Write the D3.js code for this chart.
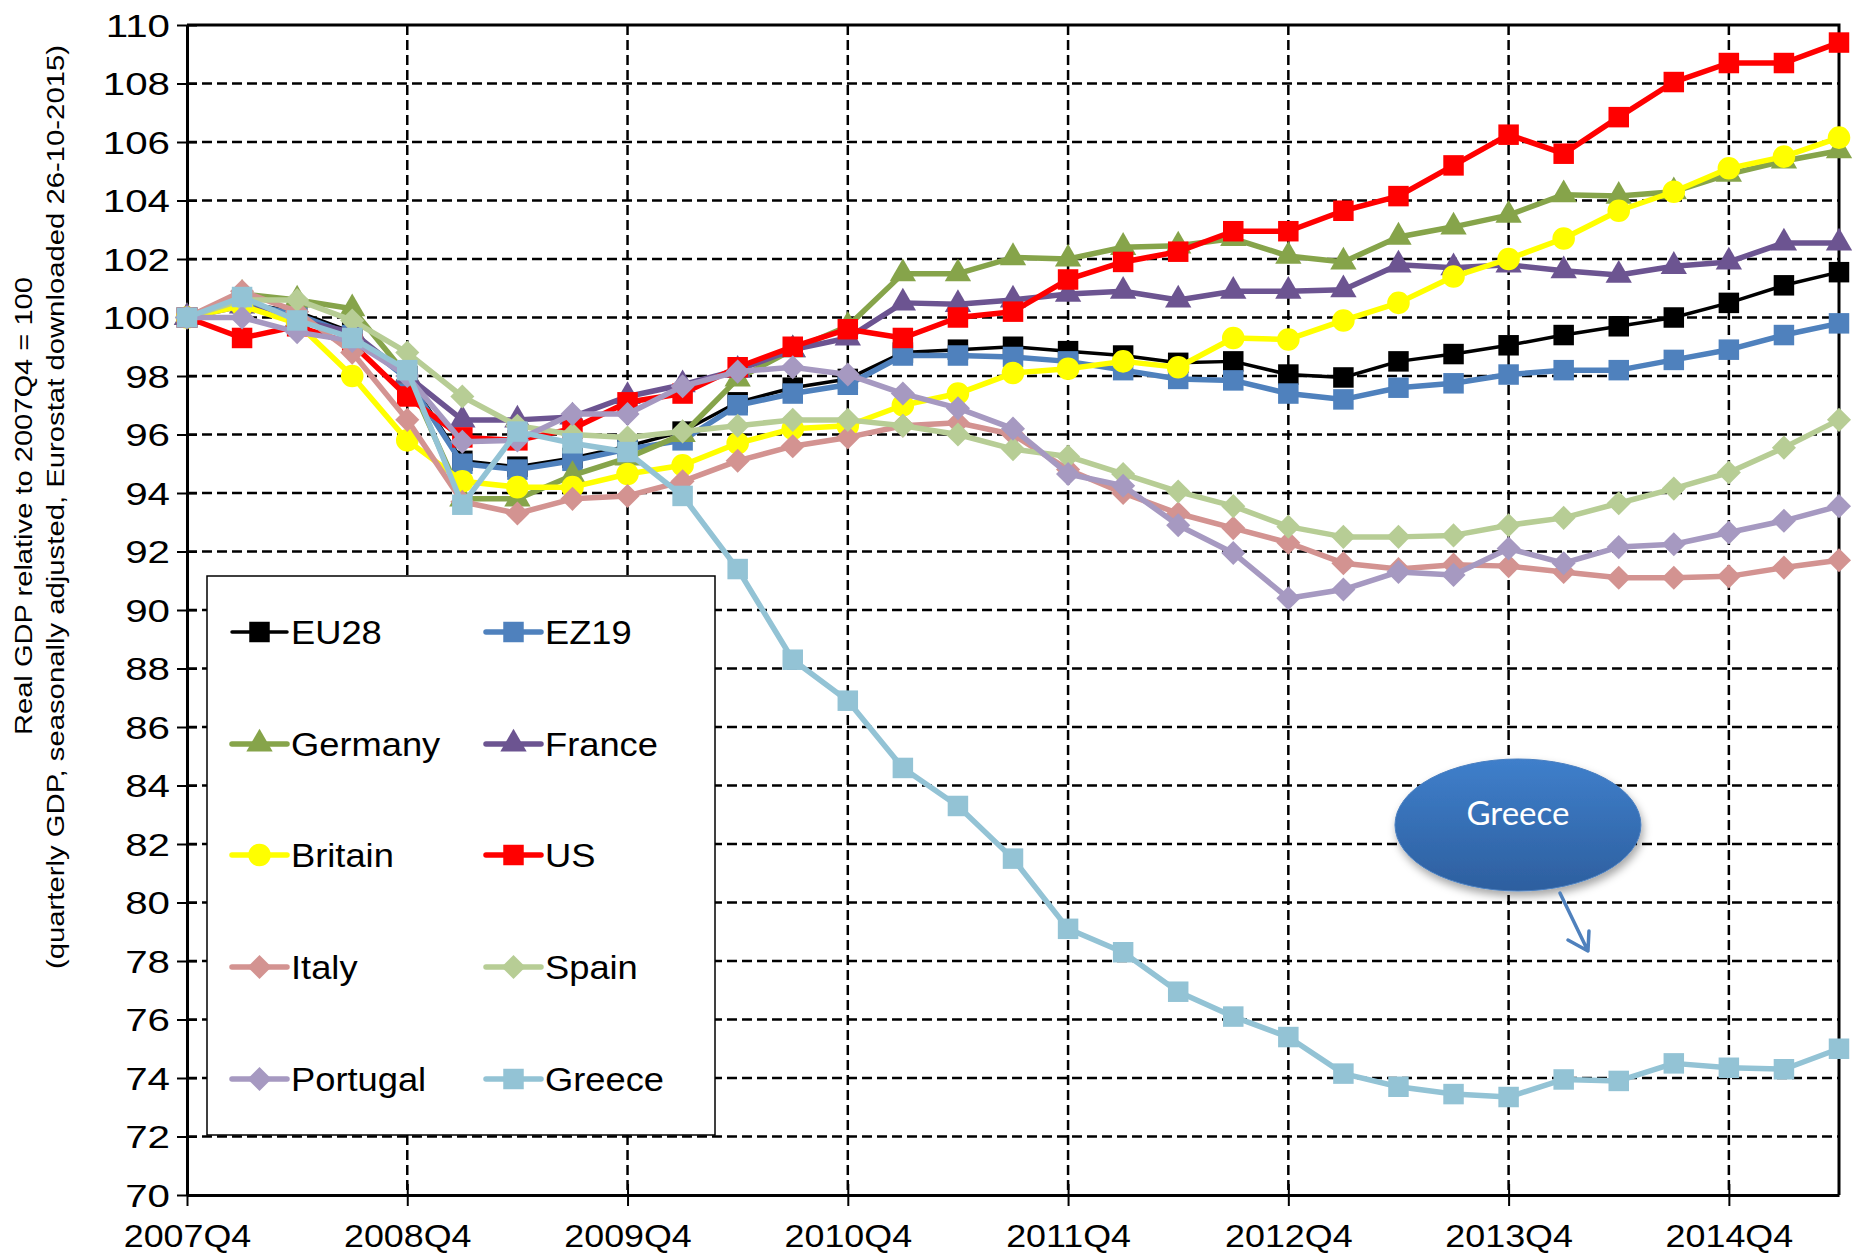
<!DOCTYPE html>
<html>
<head>
<meta charset="utf-8">
<script src="https://cdn.jsdelivr.net/npm/d3@7/dist/d3.min.js"></script>
<style>
    body { margin: 0; background: #fff; }
    text { font-family: "Liberation Sans", Arial, sans-serif; fill: #000; }
</style>
</head>
<body>
<div id="chart"></div>
<script>
// quarters on the x axis (2007Q4 .. 2015Q2)
var quarters = ["2007Q4", "2008Q1", "2008Q2", "2008Q3", "2008Q4", "2009Q1", "2009Q2", "2009Q3",
    "2009Q4", "2010Q1", "2010Q2", "2010Q3", "2010Q4", "2011Q1", "2011Q2", "2011Q3",
    "2011Q4", "2012Q1", "2012Q2", "2012Q3", "2012Q4", "2013Q1", "2013Q2", "2013Q3",
    "2013Q4", "2014Q1", "2014Q2", "2014Q3", "2014Q4", "2015Q1", "2015Q2"];
var xTickLabels = ["2007Q4", "2008Q4", "2009Q4", "2010Q4", "2011Q4", "2012Q4", "2013Q4", "2014Q4"];
var yTicks = [70, 72, 74, 76, 78, 80, 82, 84, 86, 88, 90, 92, 94, 96, 98, 100, 102, 104, 106, 108, 110];

// real GDP, 2007Q4 = 100
var eu28 = [100, 100.5, 100.2, 99.5, 98.0, 95.1, 94.9, 95.2, 95.6, 96.1, 97.1, 97.6, 97.9, 98.8, 98.9, 99.0,
    98.85, 98.7, 98.45, 98.5, 98.05, 97.95, 98.5, 98.75, 99.05, 99.4, 99.7, 100.0, 100.5, 101.1, 101.55];
var ez19 = [100, 100.5, 100.1, 99.4, 97.9, 95.0, 94.8, 95.1, 95.5, 95.8, 97.0, 97.4, 97.7, 98.7, 98.7, 98.65,
    98.5, 98.2, 97.9, 97.85, 97.4, 97.2, 97.6, 97.75, 98.05, 98.2, 98.2, 98.55, 98.9, 99.4, 99.8];
var germany = [100, 100.8, 100.6, 100.3, 98.0, 93.8, 93.8, 94.6, 95.2, 96.0, 97.9, 98.9, 99.7, 101.5, 101.5, 102.05,
    102.0, 102.4, 102.45, 102.7, 102.1, 101.9, 102.75, 103.1, 103.5, 104.2, 104.15, 104.3, 104.9, 105.35, 105.7];
var france = [100, 100.4, 99.9, 99.5, 98.0, 96.5, 96.5, 96.6, 97.3, 97.7, 98.2, 98.9, 99.3, 100.5, 100.45, 100.6,
    100.8, 100.9, 100.6, 100.9, 100.9, 100.95, 101.8, 101.7, 101.8, 101.6, 101.45, 101.75, 101.9, 102.55, 102.55];
var britain = [100, 100.4, 99.8, 98.0, 95.8, 94.4, 94.2, 94.2, 94.65, 94.95, 95.7, 96.2, 96.3, 97.0, 97.4, 98.1,
    98.25, 98.5, 98.3, 99.3, 99.25, 99.9, 100.5, 101.4, 102.0, 102.7, 103.65, 104.3, 105.1, 105.5, 106.15];
var us = [100, 99.3, 99.7, 99.1, 97.3, 95.9, 95.8, 96.2, 97.1, 97.4, 98.3, 99.0, 99.6, 99.3, 100.0, 100.2,
    101.3, 101.9, 102.25, 102.95, 102.95, 103.65, 104.15, 105.2, 106.25, 105.6, 106.85, 108.05, 108.7, 108.7, 109.4];
var italy = [100, 100.9, 100.2, 98.8, 96.5, 93.7, 93.3, 93.8, 93.9, 94.4, 95.1, 95.6, 95.9, 96.3, 96.4, 96.0,
    94.8, 94.0, 93.3, 92.8, 92.3, 91.6, 91.4, 91.55, 91.5, 91.3, 91.1, 91.1, 91.15, 91.45, 91.7];
var spain = [100, 100.6, 100.6, 99.9, 98.8, 97.3, 96.3, 96.0, 95.9, 96.1, 96.3, 96.5, 96.5, 96.3, 96.0, 95.5,
    95.25, 94.65, 94.05, 93.55, 92.85, 92.5, 92.5, 92.55, 92.9, 93.15, 93.65, 94.15, 94.7, 95.55, 96.5];
var portugal = [100, 100.0, 99.5, 99.2, 98.0, 95.75, 95.8, 96.7, 96.7, 97.65, 98.15, 98.3, 98.05, 97.4, 96.9, 96.2,
    94.65, 94.25, 92.9, 91.95, 90.4, 90.7, 91.3, 91.2, 92.1, 91.6, 92.15, 92.25, 92.65, 93.05, 93.55];
var greece = [100, 100.7, 99.9, 99.3, 98.2, 93.6, 96.1, 95.7, 95.4, 93.9, 91.4, 88.3, 86.9, 84.6, 83.3, 81.5,
    79.1, 78.3, 76.95, 76.1, 75.4, 74.15, 73.7, 73.45, 73.35, 73.95, 73.9, 74.5, 74.35, 74.3, 75.0];

var seriesNames = ["EU28", "EZ19", "Germany", "France", "Britain", "US", "Italy", "Spain", "Portugal", "Greece"];
var seriesValues = [eu28, ez19, germany, france, britain, us, italy, spain, portugal, greece];

// styles
var seriesStyle = {
    "EU28":     {color: "#000000", marker: "square",   lw: 3.5},
    "EZ19":     {color: "#4f81bd", marker: "square",   lw: 5.5},
    "Germany":  {color: "#86a44a", marker: "triangle", lw: 5.5},
    "France":   {color: "#6c5491", marker: "triangle", lw: 5.5},
    "Britain":  {color: "#ffff00", marker: "circle",   lw: 5.5},
    "US":       {color: "#ff0000", marker: "square",   lw: 5.5},
    "Italy":    {color: "#d39391", marker: "diamond",  lw: 5.5},
    "Spain":    {color: "#b7cd95", marker: "diamond",  lw: 5.5},
    "Portugal": {color: "#a699c1", marker: "diamond",  lw: 5.5},
    "Greece":   {color: "#93c3d5", marker: "square",   lw: 5.5}
};

var W = 1857, H = 1256;
var plot = {left: 187, right: 1839, top: 25, bottom: 1195};

var svg = d3.select("#chart").append("svg")
    .attr("width", W)
    .attr("height", H);

var defs = svg.append("defs");

var x = d3.scalePoint()
    .domain(quarters)
    .range([plot.left, plot.right])
    .padding(0);

var y = d3.scaleLinear()
    .domain([70, 110])
    .range([plot.bottom, plot.top]);

function xAt(i) {
    return plot.left + i * x.step();
}

// gridlines
var grid = svg.append("g").attr("class", "grid");
grid.selectAll(".hgrid")
    .data(yTicks.filter(function (d) { return d > 70 && d < 110; }))
    .enter().append("line")
    .attr("x1", plot.left).attr("x2", plot.right)
    .attr("y1", function (d) { return y(d); })
    .attr("y2", function (d) { return y(d); })
    .style("stroke", "#000").style("stroke-width", 2.5).style("stroke-dasharray", "10,5");

grid.selectAll(".vgrid")
    .data(xTickLabels.slice(1))
    .enter().append("line")
    .attr("x1", function (d) { return x(d); })
    .attr("x2", function (d) { return x(d); })
    .attr("y1", plot.top).attr("y2", plot.bottom)
    .style("stroke", "#000").style("stroke-width", 2.5).style("stroke-dasharray", "10,5");

// frame (top and right)
svg.append("path")
    .attr("d", "M" + plot.left + "," + plot.top + "H" + plot.right + "V" + plot.bottom)
    .style("fill", "none").style("stroke", "#000").style("stroke-width", 3);

// axes
var yAxis = d3.axisLeft(y).tickValues(yTicks).tickSize(10).tickSizeOuter(0).tickPadding(14);
var gy = svg.append("g")
    .attr("transform", "translate(" + plot.left + ",0)")
    .call(yAxis);
gy.select(".domain").style("stroke", "#000").style("stroke-width", 3);
gy.selectAll(".tick line").attr("x1", 10).style("stroke-width", 2);
gy.selectAll(".tick text")
    .style("font-size", "31px")
    .attr("dy", "0.36em")
    .attr("x", -17 / 1.3)
    .attr("transform", "scale(1.3,1)");

var xAxis = d3.axisBottom(x).tickValues(xTickLabels).tickSize(11).tickSizeOuter(0).tickPadding(18);
var gx = svg.append("g")
    .attr("transform", "translate(0," + plot.bottom + ")")
    .call(xAxis);
gx.select(".domain").style("stroke", "#000").style("stroke-width", 3);
gx.selectAll(".tick line").attr("y1", -11).style("stroke-width", 2);
gx.selectAll(".tick text")
    .style("font-size", "32px")
    .attr("dy", "0.71em")
    .attr("transform", "scale(1.12,1)")
    .attr("x", 0);

// y axis title
var yTitle = svg.append("g");
yTitle.append("text")
    .attr("transform", "translate(24,506) rotate(-90)")
    .attr("text-anchor", "middle")
    .attr("dy", "0.35em")
    .attr("textLength", 458)
    .attr("lengthAdjust", "spacingAndGlyphs")
    .style("font-size", "23px")
    .text("Real GDP relative to 2007Q4 = 100");
yTitle.append("text")
    .attr("transform", "translate(56,507) rotate(-90)")
    .attr("text-anchor", "middle")
    .attr("dy", "0.35em")
    .attr("textLength", 924)
    .attr("lengthAdjust", "spacingAndGlyphs")
    .style("font-size", "23px")
    .text("(quarterly GDP, seasonally adjusted, Eurostat downloaded 26-10-2015)");

// markers
function markerPath(type) {
    if (type === "square") return d3.symbol().type(d3.symbolSquare).size(420)();
    if (type === "triangle") return d3.symbol().type(d3.symbolTriangle).size(300)();
    if (type === "circle") return d3.symbol().type(d3.symbolCircle).size(400)();
    return d3.symbol().type(d3.symbolSquare).size(290)();
}
function markerRotate(type) {
    return type === "diamond" ? " rotate(45)" : "";
}

var line = d3.line()
    .x(function (d, i) { return xAt(i); })
    .y(function (d) { return y(d); });

var series = svg.selectAll(".series")
    .data(seriesNames)
    .enter().append("g")
    .attr("class", "series");

series.each(function (name, k) {
    var g = d3.select(this);
    var st = seriesStyle[name];
    var vals = seriesValues[k];
    g.append("path")
        .attr("d", line(vals))
        .style("fill", "none")
        .style("stroke", st.color)
        .style("stroke-width", st.lw)
        .style("stroke-linejoin", "round");
    g.selectAll(".pt")
        .data(vals)
        .enter().append("path")
        .attr("class", "pt")
        .attr("d", markerPath(st.marker))
        .attr("transform", function (d, i) {
            return "translate(" + xAt(i) + "," + y(d) + ")" + markerRotate(st.marker);
        })
        .style("fill", st.color);
});

// legend
var legend = svg.append("g").attr("class", "legend");
legend.append("rect")
    .attr("x", 207).attr("y", 576)
    .attr("width", 508).attr("height", 559)
    .style("fill", "#fff").style("stroke", "#000").style("stroke-width", 1.5);

var legendCols = [232, 486];
var legendRows = [632, 744, 855, 967, 1079];
seriesNames.forEach(function (name, k) {
    var st = seriesStyle[name];
    var lx = legendCols[k % 2], ly = legendRows[Math.floor(k / 2)];
    var item = legend.append("g").attr("transform", "translate(" + lx + "," + ly + ")");
    item.append("line")
        .attr("x1", 0).attr("x2", 55).attr("y1", 0).attr("y2", 0)
        .style("stroke", st.color).style("stroke-width", st.lw)
        .style("stroke-linecap", "round");
    item.append("path")
        .attr("d", markerPath(st.marker))
        .attr("transform", "translate(27.5,0)" + markerRotate(st.marker))
        .style("fill", st.color);
    item.append("text")
        .attr("transform", "translate(59,12) scale(1.1,1)")
        .style("font-size", "33px")
        .text(name);
});

// Greece call-out
var grad = defs.append("linearGradient")
    .attr("id", "bubbleGrad")
    .attr("x1", 0).attr("y1", 0).attr("x2", 0).attr("y2", 1);
grad.append("stop").attr("offset", "0%").attr("stop-color", "#3f7fcb");
grad.append("stop").attr("offset", "100%").attr("stop-color", "#2d5f9f");

var shadow = defs.append("filter").attr("id", "shadow")
    .attr("x", "-20%").attr("y", "-20%").attr("width", "140%").attr("height", "160%");
shadow.append("feDropShadow")
    .attr("dx", 2).attr("dy", 5).attr("stdDeviation", 4)
    .attr("flood-color", "#000").attr("flood-opacity", 0.35);

var bx = xAt(24.17), by = y(82.65);
var callout = svg.append("g").attr("class", "callout");
callout.append("ellipse")
    .attr("cx", bx).attr("cy", by)
    .attr("rx", 123).attr("ry", 66)
    .style("fill", "url(#bubbleGrad)")
    .style("stroke", "#4a7fc0").style("stroke-width", 1)
    .attr("filter", "url(#shadow)");
callout.append("text")
    .attr("x", bx).attr("y", by - 12)
    .attr("text-anchor", "middle")
    .attr("dy", "0.35em")
    .style("font-family", "Lato, 'Open Sans', sans-serif")
    .style("font-size", "33px")
    .style("fill", "#fff")
    .text("Greece");

var ax0 = bx + 42, ay0 = by + 68, ax1 = bx + 70, ay1 = by + 126;
callout.append("path")
    .attr("d", "M" + ax0 + "," + ay0 + "L" + ax1 + "," + ay1 +
        "M" + (ax1 - 20) + "," + (ay1 - 11) + "L" + ax1 + "," + ay1 + "L" + (ax1 + 1) + "," + (ay1 - 20))
    .style("fill", "none")
    .style("stroke", "#4f81bd")
    .style("stroke-width", 3.5)
    .style("stroke-linecap", "round")
    .style("stroke-linejoin", "round");
</script>
</body>
</html>
